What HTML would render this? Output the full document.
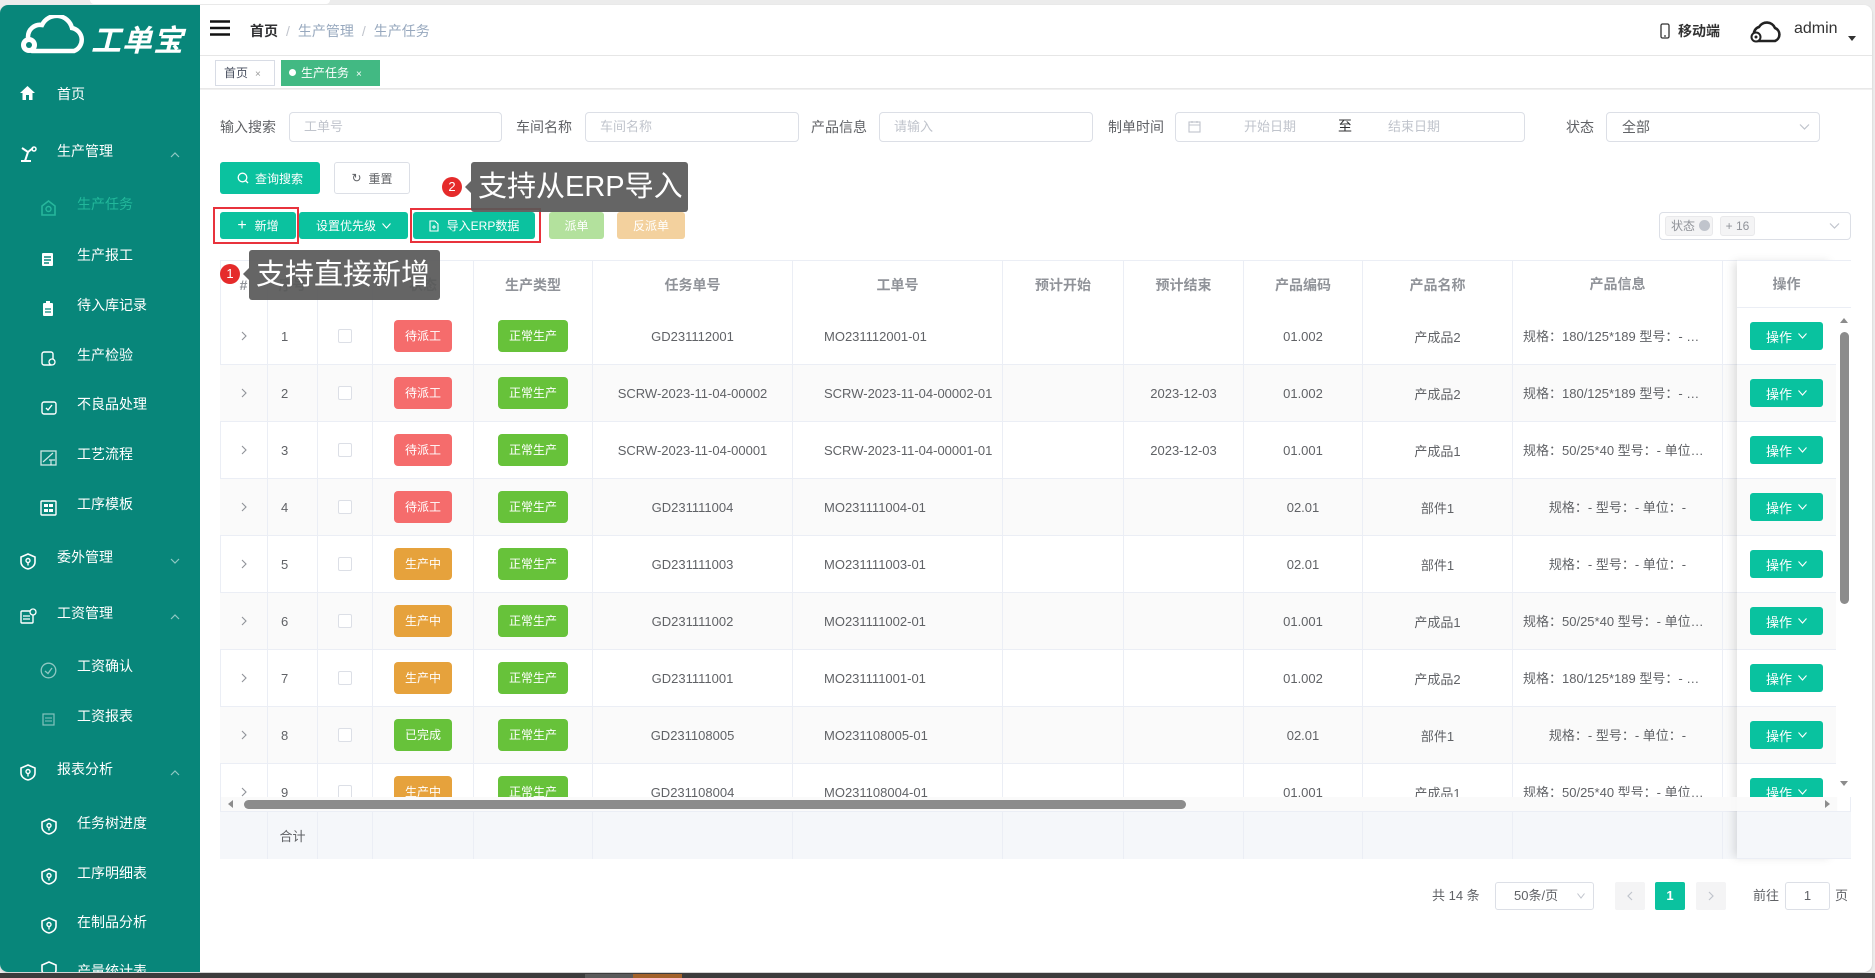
<!DOCTYPE html>
<html><head><meta charset="utf-8">
<style>
*{box-sizing:border-box;margin:0;padding:0}
body{width:1875px;height:978px;overflow:hidden;background:#ececec;font-family:"Liberation Sans","Noto Sans CJK SC",sans-serif;position:relative;color:#606266}
.a{position:absolute}
.frame{position:absolute;left:0;top:5px;width:1872px;height:967px;background:#fff;border-radius:8px;overflow:hidden;box-shadow:0 1px 2px rgba(0,0,0,.15)}
.side{position:absolute;left:0;top:5px;width:200px;height:967px;background:#08867a;border-radius:8px 0 0 8px;overflow:hidden}
.mi{position:absolute;color:#fff;font-size:14px;line-height:20px;white-space:nowrap;margin-top:-4px}
.mi.logo{margin-top:0}
.ic{position:absolute}
.arr{position:absolute;left:170px;width:10px;height:10px}
.lbl{position:absolute;font-size:14px;color:#606266;line-height:20px;white-space:nowrap}
.inp{position:absolute;height:30px;border:1px solid #dcdfe6;border-radius:4px;background:#fff;font-size:13px;color:#c0c4cc;line-height:28px;padding-left:14px;white-space:nowrap}
.btn{position:absolute;border-radius:3px;color:#fff;font-size:12px;display:flex;align-items:center;justify-content:center;white-space:nowrap}
.tr{position:absolute;left:0;display:flex;height:57px}
.tr>div{flex:none;height:57px;border-right:1px solid #ebeef5;border-bottom:1px solid #ebeef5;display:flex;align-items:center;justify-content:center;font-size:13px;color:#606266;overflow:hidden;white-space:nowrap}
.tr>div:nth-child(1){width:48px}
.tr>div:nth-child(2){width:50px;justify-content:flex-start;padding-left:13px}
.tr>div:nth-child(3){width:55px}
.tr>div:nth-child(4){width:101px}
.tr>div:nth-child(5){width:119px}
.tr>div:nth-child(6){width:200px}
.tr>div:nth-child(7){width:210px;justify-content:flex-start;padding-left:31px}
.tr>div:nth-child(8){width:121px}
.tr>div:nth-child(9){width:120px}
.tr>div:nth-child(10){width:119px}
.tr>div:nth-child(11){width:150px}
.tr>div:nth-child(12){width:210px;padding:0 10px;display:block;line-height:57px;text-align:center;text-overflow:ellipsis}
.tr>div:nth-child(13){width:120px}
.tr.g>div{background:#fafafa}
.hd>div{height:48px;font-size:14px;font-weight:bold;color:#909399}
.hd{height:48px}
.sm>div{height:48px;background:#f5f7fa}
.sm{height:48px}
.bd{display:inline-block;width:58px;height:32px;line-height:32px;border-radius:4px;color:#fff;font-size:12px;text-align:center}
.r{background:#f56c6c}.o{background:#e6a23c}.gr{background:#67c23a}
.bd.w{width:70px;background:#67c23a}
.cb{width:14px;height:14px;border:1px solid #dcdfe6;border-radius:2px;background:#fff}
.fx{position:absolute;left:1737px;top:260px;width:99px;height:599px;background:#fff;box-shadow:-5px 0 9px -2px rgba(0,0,0,.13)}
.fr{position:absolute;left:0;width:99px;height:57px;border-bottom:1px solid #ebeef5;display:flex;align-items:center;justify-content:center}
.fr.g{background:#fafafa}
.ob{width:73px;height:28px;background:#09c29f;border-radius:3px;color:#fff;font-size:13px;display:flex;align-items:center;justify-content:center}
.tip{position:absolute;background:rgba(88,88,88,.92);color:#fff;font-size:29px;height:50px;line-height:50px;border-radius:3px;white-space:nowrap;padding-left:7px}
.dot{position:absolute;width:20px;height:20px;border-radius:50%;background:#e52b2b;color:#fff;font-size:13px;line-height:20px;text-align:center}
.car{position:absolute;width:0;height:0;border-top:6px solid transparent;border-bottom:6px solid transparent;border-right:6px solid rgba(88,88,88,.92)}
.rb{position:absolute;border:2px solid #e8323c}
</style></head><body>
<!-- top decorations -->
<div class="a" style="left:90px;top:0;width:240px;height:4px;background:#fff;border-radius:0 0 6px 6px"></div>
<div class="frame"></div>
<!-- bottom bar -->
<div class="a" style="left:0;top:973px;width:1875px;height:5px;background:#3c3c3c"></div>
<div class="a" style="left:585px;top:974px;width:48px;height:4px;background:#5a5a5a"></div>
<div class="a" style="left:633px;top:974px;width:49px;height:4px;background:#a3622b"></div>

<!-- SIDEBAR -->
<div class="side">
  <!-- logo -->
  <svg class="ic" style="left:12px;top:10px" width="80" height="42" viewBox="0 0 80 42">
    <path d="M20 36 H62 A12 12 0 0 0 60 13 A16 16 0 0 0 30 10 A12 12 0 0 0 16 22" fill="none" stroke="#fff" stroke-width="4.5" stroke-linecap="round"/>
    <circle cx="17" cy="30" r="8" fill="#fff"/>
    <circle cx="17" cy="30" r="3" fill="#08867a"/>
  </svg>
  <div class="mi logo" style="left:91px;top:19px;font-size:30px;line-height:36px;font-weight:bold;font-style:italic;letter-spacing:1px">工单宝</div>

  <svg class="ic" style="left:19px;top:80px" width="17" height="16" viewBox="0 0 17 16"><path d="M8.5 1 L16 8 H13.5 V15 H10 V10 H7 V15 H3.5 V8 H1 Z" fill="#fff"/></svg>
  <div class="mi" style="left:57px;top:83px">首页</div>

  <svg class="ic" style="left:19px;top:140px" width="18" height="18" viewBox="0 0 18 18"><path d="M3 3 L9 7 L6 16 M2 16 H12 M9 7 L14 3" fill="none" stroke="#fff" stroke-width="2"/><circle cx="15" cy="4" r="2" fill="none" stroke="#fff" stroke-width="1.5"/></svg>
  <div class="mi" style="left:57px;top:140px">生产管理</div>
  <svg class="arr" style="top:145px" viewBox="0 0 10 10"><polyline points="1,7 5,3 9,7" fill="none" stroke="rgba(255,255,255,.55)" stroke-width="1.2"/></svg>

  <svg class="ic" style="left:41px;top:195px" width="15" height="16" viewBox="0 0 15 16"><path d="M7.5 1 L14 6 V15 H1 V6 Z" fill="none" stroke="#26b79c" stroke-width="1.6"/><circle cx="7.5" cy="9" r="2.5" fill="none" stroke="#26b79c" stroke-width="1.4"/></svg>
  <div class="mi" style="left:77px;top:193px;color:#22b89b">生产任务</div>

  <svg class="ic" style="left:41px;top:246px" width="14" height="16" viewBox="0 0 14 16"><rect x="1" y="2" width="11" height="13" rx="1" fill="#fff"/><path d="M3 6 H10 M3 9 H10 M3 12 H8" stroke="#08867a" stroke-width="1.4"/></svg>
  <div class="mi" style="left:77px;top:244px">生产报工</div>

  <svg class="ic" style="left:42px;top:296px" width="12" height="16" viewBox="0 0 12 16"><rect x="1" y="2" width="10" height="13" rx="1" fill="#fff"/><rect x="4" y="0" width="4" height="3" fill="#fff"/><path d="M3 8 H9 M3 11 H9" stroke="#08867a" stroke-width="1.3"/></svg>
  <div class="mi" style="left:77px;top:294px">待入库记录</div>

  <svg class="ic" style="left:41px;top:346px" width="16" height="16" viewBox="0 0 16 16"><rect x="1" y="1" width="11" height="13" rx="2" fill="none" stroke="#fff" stroke-width="1.4"/><circle cx="11" cy="11" r="3" fill="#08867a" stroke="#fff" stroke-width="1.3"/></svg>
  <div class="mi" style="left:77px;top:344px">生产检验</div>

  <svg class="ic" style="left:41px;top:395px" width="16" height="16" viewBox="0 0 16 16"><rect x="1" y="2" width="14" height="12" rx="2" fill="none" stroke="#fff" stroke-width="1.4"/><polyline points="5,8 7,10 11,5" fill="none" stroke="#fff" stroke-width="1.4"/></svg>
  <div class="mi" style="left:77px;top:393px">不良品处理</div>

  <svg class="ic" style="left:40px;top:445px" width="17" height="16" viewBox="0 0 17 16"><rect x="1" y="1" width="15" height="14" fill="none" stroke="rgba(255,255,255,.8)" stroke-width="1.3"/><path d="M3 12 L13 3 M9 10 H15 M11 10 V15" stroke="rgba(255,255,255,.8)" stroke-width="1.2"/></svg>
  <div class="mi" style="left:77px;top:443px">工艺流程</div>

  <svg class="ic" style="left:40px;top:495px" width="17" height="16" viewBox="0 0 17 16"><rect x="1" y="1" width="15" height="14" rx="1" fill="none" stroke="#fff" stroke-width="1.4"/><rect x="4" y="4" width="4" height="3" fill="#fff"/><rect x="9" y="4" width="4" height="3" fill="#fff"/><rect x="4" y="9" width="4" height="3" fill="#fff"/><rect x="9" y="9" width="4" height="3" fill="#fff"/></svg>
  <div class="mi" style="left:77px;top:493px">工序模板</div>

  <svg class="ic" style="left:20px;top:548px" width="16" height="17" viewBox="0 0 16 17"><path d="M8 1 L15 4 V9 C15 13 11 15.5 8 16 C5 15.5 1 13 1 9 V4 Z" fill="none" stroke="#fff" stroke-width="1.6"/><circle cx="8" cy="7.5" r="2" fill="none" stroke="#fff" stroke-width="1.4"/><path d="M8 9.5 V12.5" stroke="#fff" stroke-width="1.4"/></svg>
  <div class="mi" style="left:57px;top:546px">委外管理</div>
  <svg class="arr" style="top:551px" viewBox="0 0 10 10"><polyline points="1,3 5,7 9,3" fill="none" stroke="rgba(255,255,255,.55)" stroke-width="1.2"/></svg>

  <svg class="ic" style="left:20px;top:603px" width="17" height="16" viewBox="0 0 17 16"><rect x="1" y="3" width="12" height="12" rx="1" fill="none" stroke="#fff" stroke-width="1.4"/><path d="M3 8 H10 M3 11 H10" stroke="#fff" stroke-width="1.3"/><circle cx="13" cy="4" r="3" fill="#08867a" stroke="#fff" stroke-width="1.3"/></svg>
  <div class="mi" style="left:57px;top:602px">工资管理</div>
  <svg class="arr" style="top:607px" viewBox="0 0 10 10"><polyline points="1,7 5,3 9,7" fill="none" stroke="rgba(255,255,255,.55)" stroke-width="1.2"/></svg>

  <svg class="ic" style="left:40px;top:657px" width="17" height="17" viewBox="0 0 17 17"><circle cx="8.5" cy="8.5" r="7.3" fill="none" stroke="rgba(255,255,255,.55)" stroke-width="1.3"/><polyline points="5,9 8,11.5 12,6" fill="none" stroke="rgba(255,255,255,.55)" stroke-width="1.3"/></svg>
  <div class="mi" style="left:77px;top:655px">工资确认</div>

  <svg class="ic" style="left:42px;top:708px" width="13" height="13" viewBox="0 0 13 13"><rect x="1" y="1" width="11" height="11" fill="none" stroke="rgba(255,255,255,.5)" stroke-width="1.2"/><path d="M3 5 H10 M3 8 H10" stroke="rgba(255,255,255,.5)" stroke-width="1.1"/></svg>
  <div class="mi" style="left:77px;top:705px">工资报表</div>

  <svg class="ic" style="left:20px;top:759px" width="16" height="17" viewBox="0 0 16 17"><path d="M8 1 L15 4 V9 C15 13 11 15.5 8 16 C5 15.5 1 13 1 9 V4 Z" fill="none" stroke="#fff" stroke-width="1.6"/><circle cx="8" cy="7.5" r="2" fill="none" stroke="#fff" stroke-width="1.4"/><path d="M8 9.5 V12.5" stroke="#fff" stroke-width="1.4"/></svg>
  <div class="mi" style="left:57px;top:758px">报表分析</div>
  <svg class="arr" style="top:763px" viewBox="0 0 10 10"><polyline points="1,7 5,3 9,7" fill="none" stroke="rgba(255,255,255,.55)" stroke-width="1.2"/></svg>

  <svg class="ic" style="left:41px;top:813px" width="16" height="17" viewBox="0 0 16 17"><path d="M8 1 L15 4 V9 C15 13 11 15.5 8 16 C5 15.5 1 13 1 9 V4 Z" fill="none" stroke="#fff" stroke-width="1.6"/><circle cx="8" cy="7.5" r="2" fill="none" stroke="#fff" stroke-width="1.4"/><path d="M8 9.5 V12.5" stroke="#fff" stroke-width="1.4"/></svg>
  <div class="mi" style="left:77px;top:812px">任务树进度</div>
  <svg class="ic" style="left:41px;top:863px" width="16" height="17" viewBox="0 0 16 17"><path d="M8 1 L15 4 V9 C15 13 11 15.5 8 16 C5 15.5 1 13 1 9 V4 Z" fill="none" stroke="#fff" stroke-width="1.6"/><circle cx="8" cy="7.5" r="2" fill="none" stroke="#fff" stroke-width="1.4"/><path d="M8 9.5 V12.5" stroke="#fff" stroke-width="1.4"/></svg>
  <div class="mi" style="left:77px;top:862px">工序明细表</div>
  <svg class="ic" style="left:41px;top:912px" width="16" height="17" viewBox="0 0 16 17"><path d="M8 1 L15 4 V9 C15 13 11 15.5 8 16 C5 15.5 1 13 1 9 V4 Z" fill="none" stroke="#fff" stroke-width="1.6"/><circle cx="8" cy="7.5" r="2" fill="none" stroke="#fff" stroke-width="1.4"/><path d="M8 9.5 V12.5" stroke="#fff" stroke-width="1.4"/></svg>
  <div class="mi" style="left:77px;top:911px">在制品分析</div>
  <svg class="ic" style="left:41px;top:956px" width="16" height="17" viewBox="0 0 16 17"><path d="M8 1 L15 4 V9 C15 13 11 15.5 8 16 C5 15.5 1 13 1 9 V4 Z" fill="none" stroke="#fff" stroke-width="1.6"/></svg>
  <div class="mi" style="left:77px;top:960px">产量统计表</div>
</div>

<!-- HEADER -->
<div class="a" style="left:200px;top:55px;width:1672px;height:1px;background:#e6e6e6"></div>
<svg class="a" style="left:210px;top:20px" width="20" height="16" viewBox="0 0 20 16"><path d="M0 1.5 H20 M0 8 H20 M0 14.5 H20" stroke="#111" stroke-width="2.4"/></svg>
<div class="a" style="left:250px;top:21px;font-size:14px;line-height:20px;white-space:nowrap"><span style="color:#303133;font-weight:bold">首页</span><span style="color:#c0c4cc;margin:0 8px">/</span><span style="color:#97a8be">生产管理</span><span style="color:#c0c4cc;margin:0 8px">/</span><span style="color:#97a8be">生产任务</span></div>
<svg class="a" style="left:1660px;top:23px" width="10" height="16" viewBox="0 0 10 16"><rect x="1" y="1" width="8" height="14" rx="1.5" fill="none" stroke="#333" stroke-width="1.3"/><path d="M4 13 H6" stroke="#333" stroke-width="1.2"/></svg>
<div class="a" style="left:1678px;top:21px;font-size:14px;line-height:20px;color:#333;font-weight:bold">移动端</div>
<svg class="a" style="left:1748px;top:19px" width="36" height="26" viewBox="0 0 36 26"><path d="M9 22 H27 A7 7 0 0 0 27 9 A9 9 0 0 0 11 8 A7 7 0 0 0 6 16" fill="none" stroke="#222" stroke-width="2.6" stroke-linecap="round"/><circle cx="8" cy="18" r="4.5" fill="#fff" stroke="#222" stroke-width="2"/><circle cx="8" cy="18" r="1.5" fill="#222"/></svg>
<div class="a" style="left:1794px;top:19px;font-size:16px;line-height:20px;color:#333">admin</div>
<div class="a" style="left:1848px;top:36px;width:0;height:0;border-left:4px solid transparent;border-right:4px solid transparent;border-top:5px solid #333"></div>

<!-- TABS -->
<div class="a" style="left:200px;top:88px;width:1672px;height:2px;background:linear-gradient(#e4e4e4,#f4f4f4)"></div>
<div class="a" style="left:215px;top:60px;width:60px;height:26px;border:1px solid #d8dce5;font-size:12px;color:#495060;line-height:24px;padding-left:8px;background:#fff">首页<span style="font-size:10px;color:#999;margin-left:7px">×</span></div>
<div class="a" style="left:281px;top:60px;width:99px;height:26px;background:#42b983;font-size:12px;color:#fff;line-height:26px;padding-left:8px;white-space:nowrap"><span style="display:inline-block;width:7px;height:7px;border-radius:50%;background:#fff;margin-right:5px;vertical-align:1px"></span>生产任务<span style="font-size:10px;margin-left:7px">×</span></div>

<!-- FORM -->
<div class="lbl" style="left:220px;top:117px">输入搜索</div>
<div class="inp" style="left:289px;top:112px;width:213px">工单号</div>
<div class="lbl" style="left:516px;top:117px">车间名称</div>
<div class="inp" style="left:585px;top:112px;width:214px">车间名称</div>
<div class="lbl" style="left:811px;top:117px">产品信息</div>
<div class="inp" style="left:879px;top:112px;width:214px">请输入</div>
<div class="lbl" style="left:1108px;top:117px">制单时间</div>
<div class="inp" style="left:1175px;top:112px;width:350px;padding:0"></div>
<svg class="a" style="left:1188px;top:120px" width="13" height="13" viewBox="0 0 13 13"><rect x="1" y="2" width="11" height="10" fill="none" stroke="#c0c4cc" stroke-width="1.1"/><path d="M1 5 H12 M4 1 V3 M9 1 V3" stroke="#c0c4cc" stroke-width="1.1"/></svg>
<div class="a" style="left:1244px;top:118px;font-size:13px;color:#c0c4cc;line-height:18px">开始日期</div>
<div class="a" style="left:1338px;top:117px;font-size:14px;color:#303133;line-height:18px">至</div>
<div class="a" style="left:1388px;top:118px;font-size:13px;color:#c0c4cc;line-height:18px">结束日期</div>
<div class="lbl" style="left:1566px;top:117px">状态</div>
<div class="inp" style="left:1606px;top:112px;width:214px;color:#606266;padding-left:15px;font-size:14px">全部</div>
<svg class="a" style="left:1799px;top:123px" width="11" height="8" viewBox="0 0 11 8"><polyline points="1,1.5 5.5,6 10,1.5" fill="none" stroke="#c0c4cc" stroke-width="1.2"/></svg>

<!-- BUTTON ROW 1 -->
<div class="btn" style="left:220px;top:162px;width:100px;height:32px;background:#0bc29f"><svg width="12" height="12" viewBox="0 0 12 12" style="margin-right:6px"><circle cx="5.5" cy="5.5" r="4.3" fill="none" stroke="#fff" stroke-width="1.3"/><path d="M8.5 8.5 L11 11" stroke="#fff" stroke-width="1.3"/></svg>查询搜索</div>
<div class="btn" style="left:334px;top:162px;width:76px;height:32px;background:#fff;border:1px solid #dcdfe6;color:#606266"><span style="font-size:12px;margin-right:7px">↻</span>重置</div>

<!-- BUTTON ROW 2 -->
<div class="btn" style="left:220px;top:212px;width:76px;height:27px;background:#0bc29f"><span style="font-size:16px;margin-right:8px;font-weight:300">+</span>新增</div>
<div class="btn" style="left:299px;top:212px;width:109px;height:27px;background:#0bc29f">设置优先级<svg width="9" height="6" viewBox="0 0 9 6" style="margin-left:6px"><polyline points="0.5,0.5 4.5,5 8.5,0.5" fill="none" stroke="#fff" stroke-width="1.1"/></svg></div>
<div class="btn" style="left:413px;top:212px;width:122px;height:27px;background:#0bc29f"><svg width="10" height="12" viewBox="0 0 10 12" style="margin-right:8px"><path d="M1 1 H6 L9 4 V11 H1 Z" fill="none" stroke="#fff" stroke-width="1.1"/><path d="M5 5 V9 M3 7 H7" stroke="#fff" stroke-width="1"/></svg>导入ERP数据</div>
<div class="btn" style="left:549px;top:212px;width:55px;height:27px;background:#b3e19d">派单</div>
<div class="btn" style="left:617px;top:212px;width:68px;height:27px;background:#f3d19e">反派单</div>
<div class="rb" style="left:213px;top:207px;width:86px;height:37px"></div>
<div class="rb" style="left:410px;top:208px;width:131px;height:35px"></div>

<!-- multi select -->
<div class="a" style="left:1659px;top:212px;width:192px;height:28px;border:1px solid #dcdfe6;border-radius:4px;background:#fff"></div>
<div class="a" style="left:1665px;top:216px;width:48px;height:20px;background:#f4f4f5;border:1px solid #e9e9eb;border-radius:3px;font-size:12px;color:#909399;line-height:18px;padding-left:5px">状态<span style="display:inline-block;width:11px;height:11px;border-radius:50%;background:#c0c4cc;margin-left:4px;vertical-align:-1px"></span></div>
<div class="a" style="left:1720px;top:216px;width:35px;height:20px;background:#f4f4f5;border:1px solid #e9e9eb;border-radius:3px;font-size:12px;color:#909399;line-height:18px;text-align:center">+ 16</div>
<svg class="a" style="left:1829px;top:222px" width="11" height="8" viewBox="0 0 11 8"><polyline points="1,1.5 5.5,6 10,1.5" fill="none" stroke="#c0c4cc" stroke-width="1.2"/></svg>

<!-- TABLE outer -->
<div class="a" style="left:220px;top:260px;width:1631px;height:599px;border:1px solid #ebeef5;border-right:1px solid #ebeef5"></div>
<!-- header -->
<div class="a" style="left:220px;top:260px;width:1617px;height:48px;overflow:hidden;border-top:1px solid #ebeef5">
 <div class="tr hd" style="top:0">
  <div>#</div><div style="justify-content:center;padding:0">序号</div><div></div><div>状态</div><div>生产类型</div><div>任务单号</div><div style="justify-content:center;padding:0">工单号</div><div>预计开始</div><div>预计结束</div><div>产品编码</div><div>产品名称</div><div style="line-height:47px">产品信息</div><div></div>
 </div>
</div>
<!-- body -->
<div class="a" style="left:220px;top:308px;width:1617px;height:489px;overflow:hidden">
 <div class="tr" style="top:0">
  <div><svg width="6" height="10" viewBox="0 0 6 10"><polyline points="1,1 5,5 1,9" fill="none" stroke="#909399" stroke-width="1.1"/></svg></div><div>1</div><div><span class="cb"></span></div><div><span class="bd r">待派工</span></div><div><span class="bd w">正常生产</span></div><div>GD231112001</div><div>MO231112001-01</div><div></div><div></div><div>01.002</div><div>产成品2</div><div>规格：180/125*189 型号：- 单位：个</div><div></div>
 </div>
 <div class="tr g" style="top:57px">
  <div><svg width="6" height="10" viewBox="0 0 6 10"><polyline points="1,1 5,5 1,9" fill="none" stroke="#909399" stroke-width="1.1"/></svg></div><div>2</div><div><span class="cb"></span></div><div><span class="bd r">待派工</span></div><div><span class="bd w">正常生产</span></div><div>SCRW-2023-11-04-00002</div><div>SCRW-2023-11-04-00002-01</div><div></div><div>2023-12-03</div><div>01.002</div><div>产成品2</div><div>规格：180/125*189 型号：- 单位：个</div><div></div>
 </div>
 <div class="tr" style="top:114px">
  <div><svg width="6" height="10" viewBox="0 0 6 10"><polyline points="1,1 5,5 1,9" fill="none" stroke="#909399" stroke-width="1.1"/></svg></div><div>3</div><div><span class="cb"></span></div><div><span class="bd r">待派工</span></div><div><span class="bd w">正常生产</span></div><div>SCRW-2023-11-04-00001</div><div>SCRW-2023-11-04-00001-01</div><div></div><div>2023-12-03</div><div>01.001</div><div>产成品1</div><div>规格：50/25*40 型号：- 单位：个个</div><div></div>
 </div>
 <div class="tr g" style="top:171px">
  <div><svg width="6" height="10" viewBox="0 0 6 10"><polyline points="1,1 5,5 1,9" fill="none" stroke="#909399" stroke-width="1.1"/></svg></div><div>4</div><div><span class="cb"></span></div><div><span class="bd r">待派工</span></div><div><span class="bd w">正常生产</span></div><div>GD231111004</div><div>MO231111004-01</div><div></div><div></div><div>02.01</div><div>部件1</div><div>规格：- 型号：- 单位：-</div><div></div>
 </div>
 <div class="tr" style="top:228px">
  <div><svg width="6" height="10" viewBox="0 0 6 10"><polyline points="1,1 5,5 1,9" fill="none" stroke="#909399" stroke-width="1.1"/></svg></div><div>5</div><div><span class="cb"></span></div><div><span class="bd o">生产中</span></div><div><span class="bd w">正常生产</span></div><div>GD231111003</div><div>MO231111003-01</div><div></div><div></div><div>02.01</div><div>部件1</div><div>规格：- 型号：- 单位：-</div><div></div>
 </div>
 <div class="tr g" style="top:285px">
  <div><svg width="6" height="10" viewBox="0 0 6 10"><polyline points="1,1 5,5 1,9" fill="none" stroke="#909399" stroke-width="1.1"/></svg></div><div>6</div><div><span class="cb"></span></div><div><span class="bd o">生产中</span></div><div><span class="bd w">正常生产</span></div><div>GD231111002</div><div>MO231111002-01</div><div></div><div></div><div>01.001</div><div>产成品1</div><div>规格：50/25*40 型号：- 单位：个个</div><div></div>
 </div>
 <div class="tr" style="top:342px">
  <div><svg width="6" height="10" viewBox="0 0 6 10"><polyline points="1,1 5,5 1,9" fill="none" stroke="#909399" stroke-width="1.1"/></svg></div><div>7</div><div><span class="cb"></span></div><div><span class="bd o">生产中</span></div><div><span class="bd w">正常生产</span></div><div>GD231111001</div><div>MO231111001-01</div><div></div><div></div><div>01.002</div><div>产成品2</div><div>规格：180/125*189 型号：- 单位：个</div><div></div>
 </div>
 <div class="tr g" style="top:399px">
  <div><svg width="6" height="10" viewBox="0 0 6 10"><polyline points="1,1 5,5 1,9" fill="none" stroke="#909399" stroke-width="1.1"/></svg></div><div>8</div><div><span class="cb"></span></div><div><span class="bd gr">已完成</span></div><div><span class="bd w">正常生产</span></div><div>GD231108005</div><div>MO231108005-01</div><div></div><div></div><div>02.01</div><div>部件1</div><div>规格：- 型号：- 单位：-</div><div></div>
 </div>
 <div class="tr" style="top:456px">
  <div><svg width="6" height="10" viewBox="0 0 6 10"><polyline points="1,1 5,5 1,9" fill="none" stroke="#909399" stroke-width="1.1"/></svg></div><div>9</div><div><span class="cb"></span></div><div><span class="bd o">生产中</span></div><div><span class="bd w">正常生产</span></div><div>GD231108004</div><div>MO231108004-01</div><div></div><div></div><div>01.001</div><div>产成品1</div><div>规格：50/25*40 型号：- 单位：个个</div><div></div>
 </div>
</div>
<!-- summary -->
<div class="a" style="left:220px;top:811px;width:1617px;height:48px;overflow:hidden;border-top:1px solid #ebeef5">
 <div class="tr sm" style="top:0">
  <div></div><div style="justify-content:center;padding:0">合计</div><div></div><div></div><div></div><div></div><div></div><div></div><div></div><div></div><div></div><div></div><div></div>
 </div>
</div>

<!-- fixed column -->
<div class="fx">
 <div class="fr" style="top:0;height:48px;font-size:14px;font-weight:bold;color:#909399;border-top:1px solid #ebeef5">操作</div>
 <div class="a" style="left:0;top:48px;width:99px;height:489px;overflow:hidden">
  <div class="fr" style="top:0"><div class="ob">操作<svg width="9" height="6" viewBox="0 0 9 6" style="margin-left:6px"><polyline points="0.5,0.5 4.5,5 8.5,0.5" fill="none" stroke="#fff" stroke-width="1.1"/></svg></div></div>
  <div class="fr g" style="top:57px"><div class="ob">操作<svg width="9" height="6" viewBox="0 0 9 6" style="margin-left:6px"><polyline points="0.5,0.5 4.5,5 8.5,0.5" fill="none" stroke="#fff" stroke-width="1.1"/></svg></div></div>
  <div class="fr" style="top:114px"><div class="ob">操作<svg width="9" height="6" viewBox="0 0 9 6" style="margin-left:6px"><polyline points="0.5,0.5 4.5,5 8.5,0.5" fill="none" stroke="#fff" stroke-width="1.1"/></svg></div></div>
  <div class="fr g" style="top:171px"><div class="ob">操作<svg width="9" height="6" viewBox="0 0 9 6" style="margin-left:6px"><polyline points="0.5,0.5 4.5,5 8.5,0.5" fill="none" stroke="#fff" stroke-width="1.1"/></svg></div></div>
  <div class="fr" style="top:228px"><div class="ob">操作<svg width="9" height="6" viewBox="0 0 9 6" style="margin-left:6px"><polyline points="0.5,0.5 4.5,5 8.5,0.5" fill="none" stroke="#fff" stroke-width="1.1"/></svg></div></div>
  <div class="fr g" style="top:285px"><div class="ob">操作<svg width="9" height="6" viewBox="0 0 9 6" style="margin-left:6px"><polyline points="0.5,0.5 4.5,5 8.5,0.5" fill="none" stroke="#fff" stroke-width="1.1"/></svg></div></div>
  <div class="fr" style="top:342px"><div class="ob">操作<svg width="9" height="6" viewBox="0 0 9 6" style="margin-left:6px"><polyline points="0.5,0.5 4.5,5 8.5,0.5" fill="none" stroke="#fff" stroke-width="1.1"/></svg></div></div>
  <div class="fr g" style="top:399px"><div class="ob">操作<svg width="9" height="6" viewBox="0 0 9 6" style="margin-left:6px"><polyline points="0.5,0.5 4.5,5 8.5,0.5" fill="none" stroke="#fff" stroke-width="1.1"/></svg></div></div>
  <div class="fr" style="top:456px"><div class="ob">操作<svg width="9" height="6" viewBox="0 0 9 6" style="margin-left:6px"><polyline points="0.5,0.5 4.5,5 8.5,0.5" fill="none" stroke="#fff" stroke-width="1.1"/></svg></div></div>
 </div>
 <div class="fr" style="top:551px;height:48px;background:#f5f7fa;border-top:1px solid #ebeef5"></div>
</div>

<!-- vertical scrollbar gutter -->
<div class="a" style="left:1836px;top:260px;width:15px;height:48px;border-top:1px solid #ebeef5;border-bottom:1px solid #ebeef5;background:#fff"></div>
<div class="a" style="left:1836px;top:308px;width:15px;height:489px;background:#fff"></div>
<div class="a" style="left:1840px;top:318px;width:0;height:0;border-left:4px solid transparent;border-right:4px solid transparent;border-bottom:5px solid #8c8c8c"></div>
<div class="a" style="left:1840px;top:332px;width:9px;height:272px;border-radius:5px;background:#8c8c8c"></div>
<div class="a" style="left:1840px;top:781px;width:0;height:0;border-left:4px solid transparent;border-right:4px solid transparent;border-top:5px solid #8c8c8c"></div>
<div class="a" style="left:1836px;top:811px;width:15px;height:48px;background:#f5f7fa;border-top:1px solid #ebeef5;border-bottom:1px solid #ebeef5"></div>

<!-- horizontal scrollbar -->
<div class="a" style="left:221px;top:797px;width:1616px;height:14px;background:rgba(250,250,250,.9)"></div>
<div class="a" style="left:228px;top:800px;width:0;height:0;border-top:4px solid transparent;border-bottom:4px solid transparent;border-right:5px solid #8c8c8c"></div>
<div class="a" style="left:244px;top:800px;width:942px;height:9px;border-radius:5px;background:#8c8c8c"></div>
<div class="a" style="left:1825px;top:800px;width:0;height:0;border-top:4px solid transparent;border-bottom:4px solid transparent;border-left:5px solid #8c8c8c"></div>

<!-- tooltips -->
<div class="tip" style="left:249px;top:250px;width:191px">支持直接新增</div>
<div class="car" style="left:243px;top:268px"></div>
<div class="dot" style="left:220px;top:264px">1</div>
<div class="tip" style="left:471px;top:162px;width:217px">支持从ERP导入</div>
<div class="car" style="left:465px;top:181px"></div>
<div class="dot" style="left:442px;top:177px">2</div>

<!-- pagination -->
<div class="a" style="left:1432px;top:887px;font-size:13px;color:#606266;line-height:18px;white-space:nowrap">共 14 条</div>
<div class="a" style="left:1495px;top:882px;width:99px;height:28px;border:1px solid #dcdfe6;border-radius:3px;font-size:13px;color:#606266;line-height:26px;padding-left:18px">50条/页</div>
<svg class="a" style="left:1577px;top:893px" width="8" height="6" viewBox="0 0 8 6"><polyline points="0.5,0.5 4,5 7.5,0.5" fill="none" stroke="#c0c4cc" stroke-width="1"/></svg>
<div class="a" style="left:1615px;top:882px;width:30px;height:28px;background:#f4f4f5;border-radius:2px"></div>
<svg class="a" style="left:1627px;top:891px" width="6" height="10" viewBox="0 0 6 10"><polyline points="5,1 1,5 5,9" fill="none" stroke="#c0c4cc" stroke-width="1.2"/></svg>
<div class="a" style="left:1655px;top:882px;width:30px;height:28px;background:#0bc29f;border-radius:2px;color:#fff;font-size:13px;font-weight:bold;line-height:28px;text-align:center">1</div>
<div class="a" style="left:1696px;top:882px;width:30px;height:28px;background:#f4f4f5;border-radius:2px"></div>
<svg class="a" style="left:1708px;top:891px" width="6" height="10" viewBox="0 0 6 10"><polyline points="1,1 5,5 1,9" fill="none" stroke="#c0c4cc" stroke-width="1.2"/></svg>
<div class="a" style="left:1753px;top:887px;font-size:13px;color:#606266;line-height:18px">前往</div>
<div class="a" style="left:1785px;top:882px;width:45px;height:28px;border:1px solid #dcdfe6;border-radius:3px;font-size:13px;color:#606266;line-height:26px;text-align:center">1</div>
<div class="a" style="left:1835px;top:887px;font-size:13px;color:#606266;line-height:18px">页</div>
</body></html>
